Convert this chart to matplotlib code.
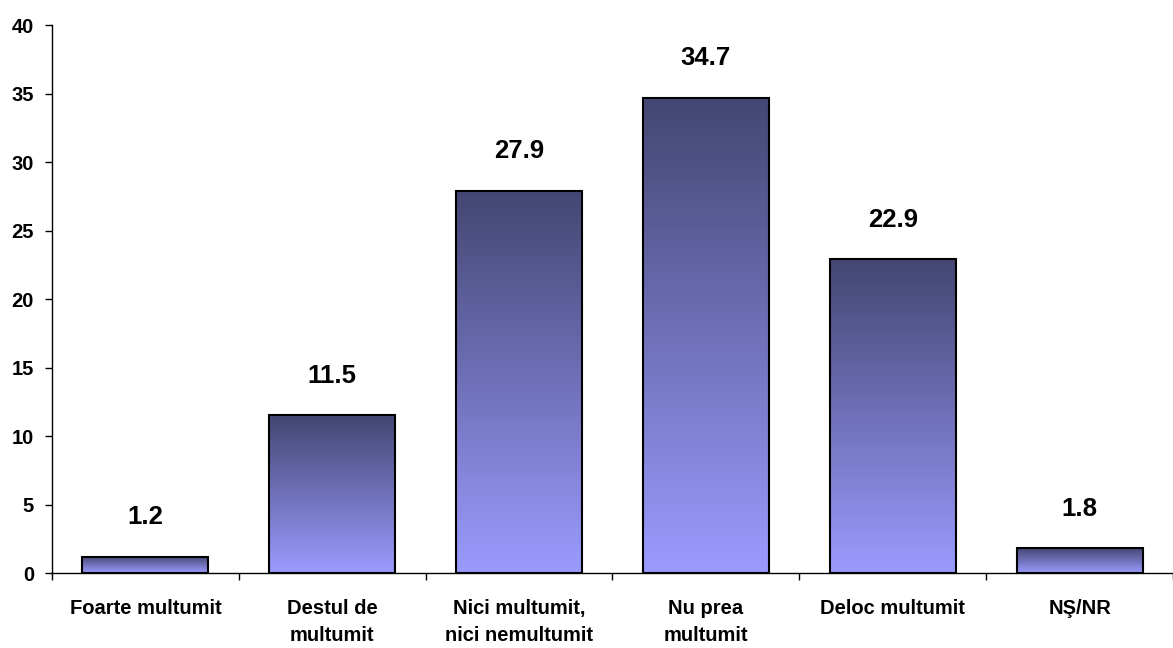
import matplotlib
matplotlib.use('Agg')
import matplotlib.pyplot as plt
import numpy as np
from matplotlib.colors import LinearSegmentedColormap

plt.rcParams['font.family'] = ['Liberation Sans', 'DejaVu Sans']

categories = ['Foarte multumit', 'Destul de\nmultumit', 'Nici multumit,\nnici nemultumit',
              'Nu prea\nmultumit', 'Deloc multumit', 'NŞ/NR']
values = [1.2, 11.5, 27.9, 34.7, 22.9, 1.8]

fig = plt.figure(figsize=(11.73, 6.48), dpi=100)
ax = fig.add_axes([0.0443, 0.1157, 0.9557, 0.8457])

x = np.arange(len(categories))
width = 0.675

# gradient fill, light at bottom, dark at top
cmap = LinearSegmentedColormap.from_list('bars', ['#9b9bff', '#444672'])
grad = np.linspace(0, 1, 256).reshape(-1, 1)
for xi, v in zip(x, values):
    ax.imshow(grad, cmap=cmap, aspect='auto', origin='lower',
              extent=(xi - width / 2, xi + width / 2, 0, v), zorder=1)

ax.bar(x, values, width=width, facecolor='none', edgecolor='black', linewidth=1.5, zorder=2)

for xi, v in zip(x, values):
    ax.annotate(f'{v:.1f}', (xi, v), xytext=(0, 20), textcoords='offset points',
                ha='center', va='bottom', fontsize=18.5, fontweight='bold')

ax.set_xlim(-0.5, len(categories) - 0.5)
ax.set_ylim(0, 40)
ax.set_yticks(range(0, 41, 5))

ax.set_xticks(x)
ax.set_xticklabels(categories, fontsize=14.5, fontweight='bold', linespacing=1.5)
ax.set_xticks(np.arange(-0.5, len(categories), 1), minor=True)
ax.tick_params(axis='x', which='major', length=0, pad=19)
ax.tick_params(axis='x', which='minor', length=5, width=1, direction='out')
ax.tick_params(axis='y', length=5, width=1, direction='out', labelsize=14.5, pad=8)
for lbl in ax.get_yticklabels():
    lbl.set_fontweight('bold')

ax.spines['top'].set_visible(False)
ax.spines['right'].set_visible(False)
ax.spines['left'].set_linewidth(1)
ax.spines['bottom'].set_linewidth(1)

fig.savefig('out.png', dpi=100)
